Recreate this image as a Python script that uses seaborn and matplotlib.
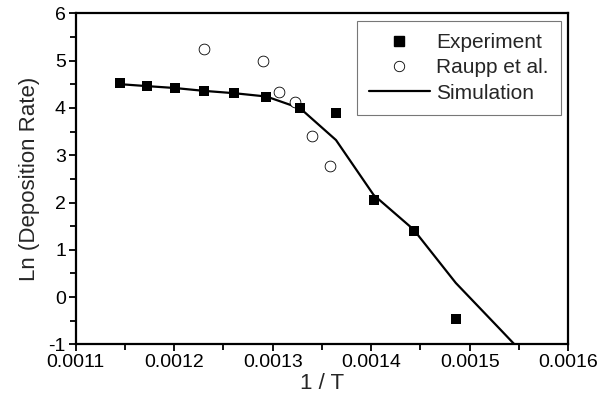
import numpy as np
import pandas as pd
import seaborn as sb
import matplotlib.pyplot as plt
from matplotlib.ticker import MultipleLocator
from matplotlib.lines import Line2D

# experiment (1/T, ln rate)
exp_x = [0.0011455, 0.0011723, 0.0012005, 0.0012300, 0.0012610, 0.0012937,
         0.0013280, 0.0013643, 0.0014025, 0.0014430, 0.0014859]
exp_y = [4.52, 4.47, 4.43, 4.35, 4.31, 4.24, 3.99, 3.89, 2.05, 1.40, -0.47]

# Raupp et al.
raupp_x = [0.0012299, 0.0012902, 0.0013060, 0.0013231, 0.0013400, 0.0013583]
raupp_y = [5.24, 5.00, 4.34, 4.13, 3.41, 2.77]

# simulation curve
sim_x = [0.0011455, 0.0011723, 0.0012005, 0.0012300, 0.0012610, 0.0012937,
         0.0013280, 0.0013643, 0.0014025, 0.0014430, 0.0014859, 0.0015314, 0.0015798]
sim_y = [4.50, 4.46, 4.42, 4.36, 4.31, 4.24, 3.99, 3.32, 2.16, 1.43, 0.30, -0.69, -1.75]

sb.set_style("ticks")
plt.rcParams['font.family'] = ['Liberation Sans', 'DejaVu Sans']
plt.rcParams['axes.unicode_minus'] = False

exp_df = pd.DataFrame({"x": exp_x, "y": exp_y})
raupp_df = pd.DataFrame({"x": raupp_x, "y": raupp_y})
sim_df = pd.DataFrame({"x": sim_x, "y": sim_y})

fig = plt.figure(figsize=(6, 4.01), dpi=100)
ax = fig.add_axes([0.126, 0.141, 0.821, 0.826])

sb.lineplot(data=sim_df, x="x", y="y", ax=ax, color="black", linewidth=1.6,
            sort=False, zorder=2)
sb.scatterplot(data=raupp_df, x="x", y="y", ax=ax, marker="o", s=60,
               facecolor="white", edgecolor="black", linewidth=0.6, zorder=3)
sb.scatterplot(data=exp_df, x="x", y="y", ax=ax, marker="s", s=50,
               color="black", edgecolor="black", linewidth=0, zorder=4)

ax.set_xlim(0.0011, 0.0016)
ax.set_ylim(-1, 6)
ax.xaxis.set_major_locator(MultipleLocator(0.0001))
ax.xaxis.set_minor_locator(MultipleLocator(0.00005))
ax.yaxis.set_major_locator(MultipleLocator(1))
ax.yaxis.set_minor_locator(MultipleLocator(0.5))
ax.set_xticklabels([f"{v:.4f}" for v in ax.get_xticks()])

for s in ax.spines.values():
    s.set_linewidth(1.6)
    s.set_color("black")
ax.tick_params(which="both", direction="out", width=1.3, colors="black",
               labelsize=14, top=False, right=False)
ax.tick_params(which="major", length=5, pad=2)
ax.tick_params(which="minor", length=4)

ax.set_xlabel("1 / T", fontsize=16, labelpad=1)
ax.set_ylabel("Ln (Deposition Rate)", fontsize=16, labelpad=6)

handles = [
    Line2D([], [], marker="s", color="black", linestyle="none", markersize=6.5),
    Line2D([], [], marker="o", markerfacecolor="white", markeredgecolor="black",
           markeredgewidth=0.6, linestyle="none", markersize=7.5),
    Line2D([], [], color="black", linewidth=1.6),
]
leg = ax.legend(handles, ["Experiment", "Raupp et al.", "Simulation"],
                loc="upper right", fontsize=15, frameon=True, fancybox=False,
                handlelength=2.9, handletextpad=0.3, labelspacing=0.3,
                borderpad=0.6, borderaxespad=0.35)
leg.get_frame().set_edgecolor("#555555")
leg.get_frame().set_linewidth(0.8)

plt.savefig("out.png", dpi=100)
